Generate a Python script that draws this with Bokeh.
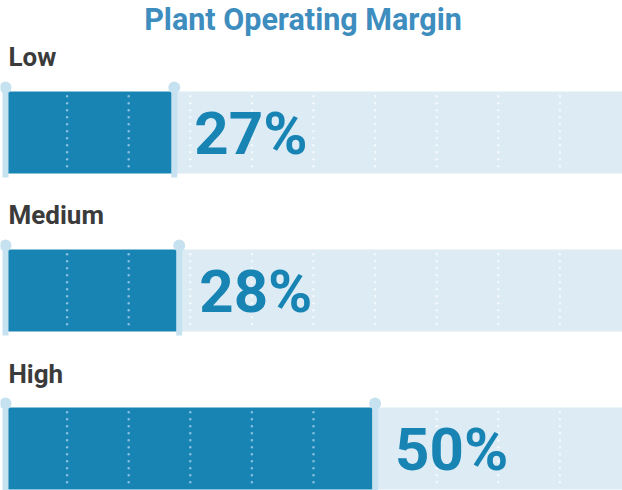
from bokeh.plotting import figure
from bokeh.models import Range1d, Label
from bokeh.core.properties import value
from bokeh.embed import file_html
from bokeh.resources import INLINE

# ---- data ----
categories = ["Low", "Medium", "High"]
margin_labels = ["27%", "28%", "50%"]
bar_lengths = [27.4, 28.2, 60.0]      # bar extent as drawn in the reference (% of track)
grid_ticks = [10, 20, 30, 40, 50, 60, 70, 80, 90]

# ---- styles ----
FONT = "Roboto"
DARK = "#1884b4"
LIGHT = "#dcebf4"
PIN = "#c6e1ef"
TITLE_C = "#3e8dbf"
LABEL_C = "#3b3b3b"

W, H = 622, 490
x_start, x_end = -0.81, 100.16
rows = list(range(len(categories)))
half = 0.2595           # half band height (data units)
pin_ext = 0.026         # pin sticks out beyond band

p = figure(width=W, height=H, output_backend="svg", toolbar_location=None,
           x_range=Range1d(x_start, x_end), y_range=Range1d(2.2658, -0.8354),
           min_border=0, outline_line_color=None, background_fill_color="white",
           border_fill_color="white")
p.xaxis.visible = False
p.yaxis.visible = False
p.grid.visible = False

# light track
p.hbar(y=rows, left=bar_lengths, right=[x_end + 5] * len(rows), height=2 * half,
       fill_color=LIGHT, line_color=None)
# dark bar
p.hbar(y=rows, left=[0] * len(rows), right=bar_lengths, height=2 * half,
       fill_color=DARK, line_color=None)

# dotted grid lines
gx_in, gy0_in, gy1_in = [], [], []
gx_out, gy0_out, gy1_out = [], [], []
for r, b in zip(rows, bar_lengths):
    for t in grid_ticks:
        if t < b:
            gx_in.append(t); gy0_in.append(r - half + 0.03); gy1_in.append(r + half - 0.015)
        else:
            gx_out.append(t); gy0_out.append(r - half + 0.03); gy1_out.append(r + half - 0.015)
p.segment(x0=gx_in, y0=gy0_in, x1=gx_in, y1=gy1_in, line_color="#86c0de",
          line_width=2.6, line_cap="round", line_dash="0 7")
p.segment(x0=gx_out, y0=gy0_out, x1=gx_out, y1=gy1_out, line_color="#f4f9fc",
          line_width=2.6, line_cap="round", line_dash="0 7")

# pins at start and end
for xs in ([0] * len(rows), bar_lengths):
    p.segment(x0=xs, y0=[r - half - pin_ext for r in rows], x1=xs,
              y1=[r + half + pin_ext for r in rows], line_color=PIN, line_width=6)
    p.scatter(x=xs, y=[r - half - pin_ext for r in rows], size=12,
              fill_color=PIN, line_color=None)

# percentage labels
p.text(x=bar_lengths, y=rows, text=margin_labels, x_offset=20, y_offset=1,
       text_font=value(FONT), text_font_style="bold", text_font_size="60px",
       text_color=DARK, text_baseline="middle", text_align="left")

# category labels
p.text(x=[x_start] * len(rows), y=rows, text=categories, x_offset=8, y_offset=-75,
       text_font=value(FONT), text_font_style="bold", text_font_size="26px",
       text_color=LABEL_C, text_baseline="alphabetic", text_align="left")

# title
p.add_layout(Label(x=302.5, y=471, x_units="screen", y_units="screen",
                   text="Plant Operating Margin", text_font=FONT,
                   text_font_style="bold", text_font_size="30.5px",
                   text_color=TITLE_C, text_align="center",
                   text_baseline="alphabetic"))

open("out.html", "w").write(file_html(p, INLINE))
